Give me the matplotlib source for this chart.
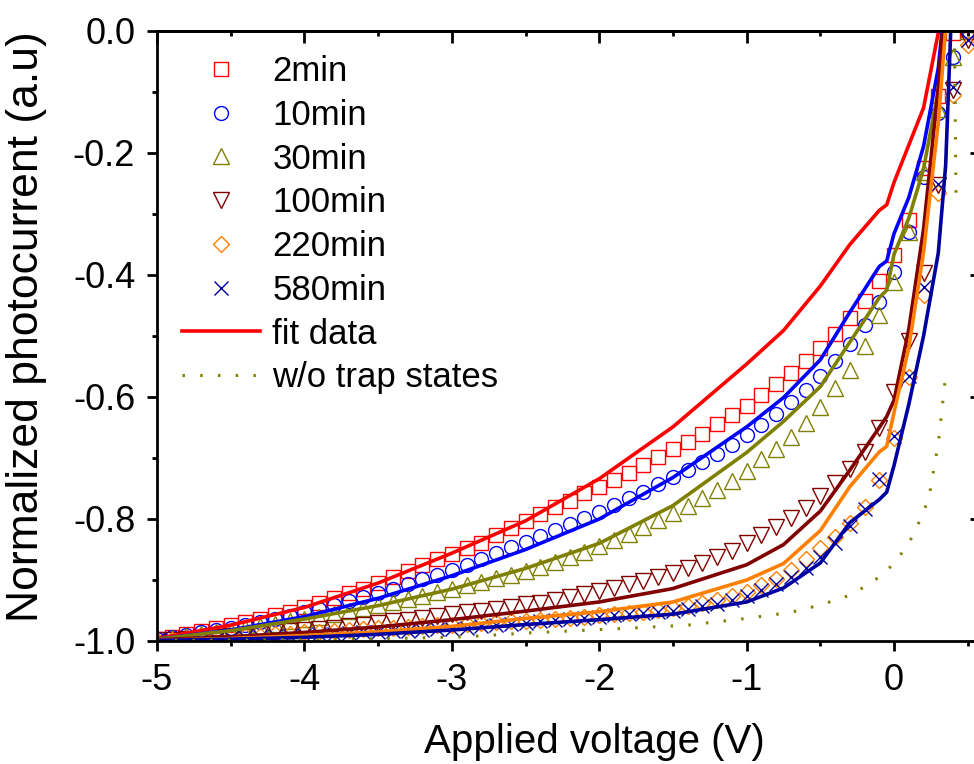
import matplotlib
matplotlib.use('Agg')
import matplotlib.pyplot as plt
from matplotlib.ticker import MultipleLocator

plt.rcParams['font.family'] = ['Liberation Sans', 'DejaVu Sans']
plt.rcParams['axes.unicode_minus'] = False

# measured points, 0.1 V steps
volts = [-5.0, -4.9, -4.8, -4.7, -4.6, -4.5, -4.4, -4.3, -4.2, -4.1,
         -4.0, -3.9, -3.8, -3.7, -3.6, -3.5, -3.4, -3.3, -3.2, -3.1,
         -3.0, -2.9, -2.8, -2.7, -2.6, -2.5, -2.4, -2.3, -2.2, -2.1,
         -2.0, -1.9, -1.8, -1.7, -1.6, -1.5, -1.4, -1.3, -1.2, -1.1,
         -1.0, -0.9, -0.8, -0.7, -0.6, -0.5, -0.4, -0.3, -0.2, -0.1,
         0.0, 0.1, 0.2, 0.3, 0.4, 0.5]

i_2min = [-0.997, -0.993, -0.989, -0.984, -0.979, -0.974, -0.969, -0.964, -0.958, -0.952,
          -0.945, -0.938, -0.930, -0.922, -0.914, -0.905, -0.895, -0.885, -0.875, -0.866,
          -0.857, -0.848, -0.839, -0.826, -0.814, -0.803, -0.791, -0.781, -0.770, -0.758,
          -0.747, -0.736, -0.724, -0.711, -0.699, -0.686, -0.673, -0.660, -0.645, -0.630,
          -0.614, -0.597, -0.579, -0.560, -0.541, -0.519, -0.496, -0.470, -0.442, -0.410,
          -0.367, -0.310, -0.225, -0.106, -0.003, 0.03]

i_10min = [-0.997, -0.994, -0.990, -0.986, -0.982, -0.978, -0.973, -0.969, -0.964, -0.959,
           -0.953, -0.947, -0.941, -0.935, -0.928, -0.921, -0.914, -0.907, -0.899, -0.891,
           -0.883, -0.875, -0.866, -0.856, -0.846, -0.837, -0.828, -0.818, -0.809, -0.799,
           -0.788, -0.777, -0.766, -0.755, -0.743, -0.731, -0.719, -0.706, -0.693, -0.678,
           -0.662, -0.646, -0.628, -0.608, -0.588, -0.565, -0.541, -0.513, -0.482, -0.444,
           -0.395, -0.329, -0.240, -0.135, -0.042, 0.0]

i_30min = [-0.998, -0.995, -0.992, -0.989, -0.986, -0.983, -0.979, -0.976, -0.972, -0.968,
           -0.964, -0.960, -0.955, -0.951, -0.946, -0.941, -0.936, -0.931, -0.926, -0.920,
           -0.915, -0.909, -0.903, -0.897, -0.891, -0.885, -0.878, -0.870, -0.862, -0.854,
           -0.845, -0.835, -0.825, -0.813, -0.801, -0.790, -0.779, -0.766, -0.752, -0.738,
           -0.721, -0.702, -0.685, -0.665, -0.642, -0.616, -0.586, -0.555, -0.516, -0.466,
           -0.412, -0.329, -0.231, -0.128, -0.043, 0.0]

i_100min = [-0.999, -0.998, -0.997, -0.995, -0.994, -0.992, -0.990, -0.988, -0.986, -0.984,
            -0.982, -0.980, -0.978, -0.976, -0.973, -0.971, -0.968, -0.965, -0.962, -0.959,
            -0.956, -0.953, -0.950, -0.947, -0.944, -0.940, -0.937, -0.933, -0.928, -0.923,
            -0.918, -0.913, -0.907, -0.901, -0.895, -0.888, -0.880, -0.872, -0.863, -0.852,
            -0.840, -0.827, -0.813, -0.799, -0.782, -0.762, -0.741, -0.718, -0.690, -0.650,
            -0.592, -0.509, -0.397, -0.252, -0.097, -0.015]

i_220min = [-0.999, -0.998, -0.997, -0.996, -0.995, -0.993, -0.992, -0.991, -0.989, -0.988,
            -0.986, -0.985, -0.984, -0.982, -0.981, -0.979, -0.978, -0.977, -0.975, -0.974,
            -0.973, -0.972, -0.970, -0.969, -0.968, -0.967, -0.966, -0.964, -0.962, -0.960,
            -0.958, -0.956, -0.954, -0.952, -0.949, -0.946, -0.943, -0.938, -0.933, -0.927,
            -0.919, -0.909, -0.899, -0.884, -0.866, -0.848, -0.829, -0.807, -0.780, -0.736,
            -0.667, -0.567, -0.433, -0.266, -0.105, -0.023]

i_580min = [-0.999, -0.998, -0.998, -0.997, -0.996, -0.995, -0.994, -0.993, -0.992, -0.991,
            -0.990, -0.989, -0.988, -0.987, -0.986, -0.985, -0.984, -0.983, -0.982, -0.981,
            -0.980, -0.978, -0.976, -0.974, -0.972, -0.970, -0.968, -0.966, -0.964, -0.962,
            -0.960, -0.958, -0.956, -0.954, -0.952, -0.950, -0.947, -0.943, -0.939, -0.933,
            -0.926, -0.917, -0.907, -0.895, -0.881, -0.862, -0.840, -0.812, -0.784, -0.735,
            -0.664, -0.565, -0.420, -0.250, -0.092, -0.015]

# fitted curves
fit_v = [-5.0, -4.5, -4.0, -3.5, -3.0, -2.5, -2.0, -1.5, -1.0, -0.75,
         -0.5, -0.3, -0.1, -0.05, 0.0, 0.1, 0.2, 0.3, 0.35, 0.4]
fit_2min = [-0.996, -0.974, -0.945, -0.905, -0.856, -0.803, -0.734, -0.649, -0.546, -0.491,
            -0.418, -0.350, -0.294, -0.285, -0.248, -0.187, -0.126, -0.003, 0.09, 0.18]
fit_10min = [-0.997, -0.982, -0.960, -0.930, -0.893, -0.850, -0.800, -0.732, -0.649, -0.601,
             -0.539, -0.461, -0.386, -0.377, -0.332, -0.273, -0.189, -0.061, 0.06, 0.18]
fit_30min = [-0.997, -0.983, -0.964, -0.942, -0.915, -0.881, -0.840, -0.778, -0.691, -0.640,
             -0.583, -0.510, -0.437, -0.425, -0.366, -0.307, -0.226, -0.097, 0.036, 0.17]
fit_100min = [-0.998, -0.993, -0.986, -0.977, -0.965, -0.951, -0.936, -0.914, -0.875, -0.842,
              -0.787, -0.720, -0.650, -0.632, -0.605, -0.489, -0.325, -0.093, 0.07, 0.2]
fit_220min = [-0.999, -0.996, -0.991, -0.985, -0.976, -0.963, -0.952, -0.936, -0.900, -0.873,
              -0.819, -0.747, -0.690, -0.681, -0.625, -0.519, -0.363, -0.150, 0.005, 0.13]
fit_580min = [-0.999, -0.997, -0.994, -0.989, -0.982, -0.973, -0.965, -0.956, -0.936, -0.913,
              -0.872, -0.806, -0.768, -0.756, -0.712, -0.612, -0.500, -0.364, -0.22, 0.10]

# simulated curve without trap states (gap where no dots are drawn)
nan = float('nan')
notrap_v = [-5.0, -4.0, -3.4, -2.9, -2.5, -1.8, -1.4, -1.0, -0.7, -0.5,
            -0.3, -0.2, -0.1, 0.0, 0.1, 0.2, 0.24, 0.3, 0.35, nan, 0.42, 0.41]
notrap_i = [-0.999, -0.998, -0.996, -0.993, -0.987, -0.979, -0.974, -0.963, -0.953, -0.941,
            -0.925, -0.911, -0.895, -0.873, -0.84, -0.79, -0.76, -0.676, -0.565, nan, -0.265, -0.02]

labels = ['2min', '10min', '30min', '100min', '220min', '580min']
colors = ['#FF0000', '#0000FF', '#808000', '#800000', '#FF8000', '#0000A0']
markers = ['s', 'o', '^', 'v', 'D', 'x']
msizes = [10, 10, 11, 11, 8.5, 9.5]
data = [i_2min, i_10min, i_30min, i_100min, i_220min, i_580min]
fits = [fit_2min, fit_10min, fit_30min, fit_100min, fit_220min, fit_580min]

fig = plt.figure(figsize=(9.74, 7.64), dpi=100)
ax = fig.add_axes([157 / 974, 123 / 764, 823 / 974, 610 / 764])

handles = []
for y, c, m, ms, lab in zip(data, colors, markers, msizes, labels):
    h, = ax.plot(volts, y, linestyle='none', marker=m, ms=ms, mfc='none',
                 mec=c, mew=1.0, label=lab)
    handles.append(h)

for y, c in zip(fits, colors):
    ax.plot(fit_v, y, color=c, lw=2.6, solid_joinstyle='miter')
handles.append(plt.Line2D([], [], color='#FF0000', lw=2.6, label='fit data'))

h, = ax.plot(notrap_v, notrap_i, color='#808000', lw=2.2,
             linestyle=(0, (0.8, 5)), label='w/o trap states')
handles.append(h)

ax.set_xlim(-5, 0.583)
ax.set_ylim(-1.0, 0.0)

ax.xaxis.set_major_locator(MultipleLocator(1))
ax.xaxis.set_minor_locator(MultipleLocator(0.5))
ax.yaxis.set_major_locator(MultipleLocator(0.2))
ax.yaxis.set_minor_locator(MultipleLocator(0.1))
ax.tick_params(which='both', direction='out', width=2, labelsize=26, pad=8.5)
ax.tick_params(which='major', length=7.2)
ax.tick_params(which='minor', length=3.6)
for s in ax.spines.values():
    s.set_linewidth(2)

# top and right ticks point inwards
top = ax.secondary_xaxis('top')
top.xaxis.set_major_locator(MultipleLocator(1))
top.xaxis.set_minor_locator(MultipleLocator(0.5))
top.tick_params(which='both', direction='in', width=2, labeltop=False)
top.tick_params(which='major', length=8.5)
top.tick_params(which='minor', length=3.6)
top.spines['top'].set_linewidth(2)

right = ax.secondary_yaxis('right')
right.yaxis.set_major_locator(MultipleLocator(0.2))
right.yaxis.set_minor_locator(MultipleLocator(0.1))
right.tick_params(which='both', direction='in', width=2, labelright=False)
right.tick_params(which='major', length=7.2)
right.tick_params(which='minor', length=3.6)

ax.set_xlabel('Applied voltage (V)', fontsize=29)
ax.xaxis.label.set_va('baseline')
ax.xaxis.set_label_coords(0.532, -0.184)
ax.set_ylabel('Normalized photocurrent (a.u)', fontsize=32)
ax.yaxis.label.set_va('center')
ax.yaxis.set_label_coords(-0.158, 0.515)

ax.legend(handles=handles, loc='upper left', bbox_to_anchor=(182 / 974, 1 - 55 / 764),
          bbox_transform=fig.transFigure, frameon=False, fontsize=25,
          handlelength=2.25, handletextpad=0.35, labelspacing=0.31,
          borderpad=0, borderaxespad=0)

fig.savefig('out.png', dpi=100)
